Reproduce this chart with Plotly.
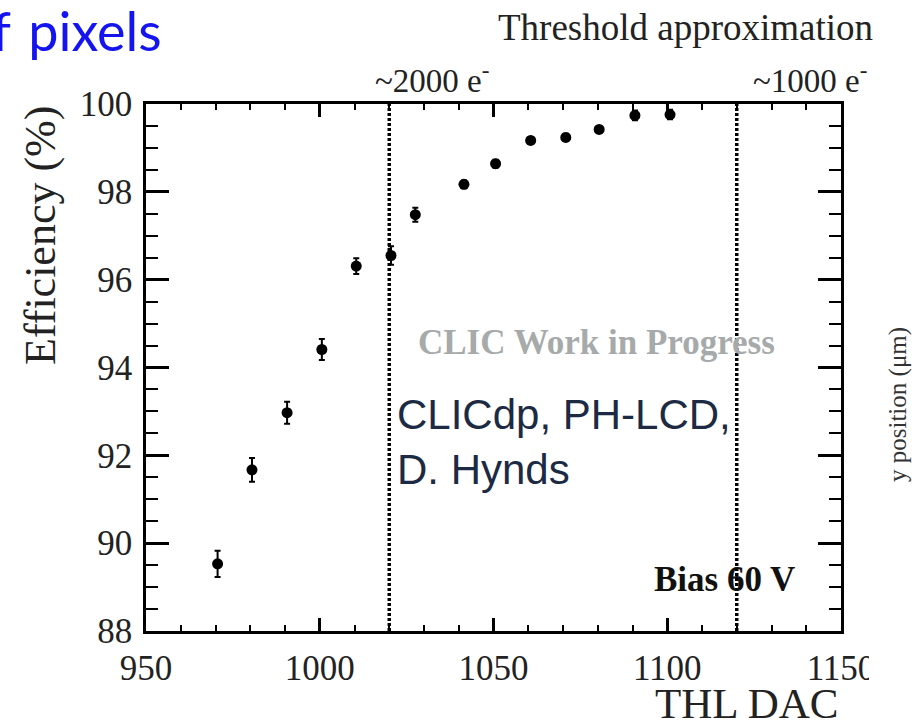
import plotly.graph_objects as go

# Data
thl_dac = [970.6, 980.5, 990.6, 1000.6, 1010.5, 1020.5, 1027.5, 1041.5,
           1050.6, 1060.7, 1070.8, 1080.4, 1090.7, 1100.8]
efficiency = [89.53, 91.67, 92.97, 94.41, 96.31, 96.55, 97.48, 98.17,
              98.64, 99.17, 99.24, 99.42, 99.74, 99.76]
eff_err = [0.30, 0.27, 0.25, 0.24, 0.18, 0.21, 0.16, 0.09,
           0.09, 0.08, 0.08, 0.08, 0.11, 0.11]
threshold_lines = [1020, 1120]
threshold_labels = ["~2000 e<sup>-</sup>", "~1000 e<sup>-</sup>"]
x_range = [950, 1150]
y_range = [88, 100]

W, H = 912, 722
L, R, T, B = 146, 71, 104, 91
pw, ph = W - L - R, H - T - B


def px(xp):
    return (xp - L) / pw


def py(yp):
    return (H - B - yp) / ph


SERIF = "Liberation Serif"

fig = go.Figure()

for xv in threshold_lines:
    fig.add_trace(go.Scatter(
        x=[xv, xv], y=y_range, mode="lines",
        line=dict(color="black", width=3.5, dash="3px,2px"),
        hoverinfo="skip", showlegend=False))

fig.add_trace(go.Scatter(
    x=thl_dac, y=efficiency, mode="markers",
    marker=dict(color="black", size=11),
    error_y=dict(type="data", array=eff_err, color="black",
                 thickness=2, width=3),
    showlegend=False))

axis_common = dict(
    showline=True, linecolor="black", linewidth=2.5, mirror="allticks",
    ticks="inside", tickcolor="black", tickwidth=2.5,
    showgrid=False, zeroline=False,
    tickfont=dict(family=SERIF, size=35, color="#222"),
)

fig.update_xaxes(range=x_range, dtick=50, ticklen=13,
                 minor=dict(dtick=10, ticklen=6, tickwidth=2,
                            ticks="inside", tickcolor="black"),
                 ticklabelstandoff=4,
                 **axis_common)
fig.update_yaxes(range=y_range, dtick=2, ticklen=23,
                 minor=dict(dtick=0.5, ticklen=12, tickwidth=2,
                            ticks="inside", tickcolor="black"),
                 ticklabelstandoff=4,
                 **axis_common)

ann = []
# axis titles
ann.append(dict(text="Efficiency (%)", x=px(40), y=py(236), xref="paper", yref="paper",
                textangle=-90, showarrow=False, xanchor="center", yanchor="middle",
                font=dict(family=SERIF, size=44, color="#222")))
ann.append(dict(text="THL DAC", x=px(841), y=py(703), xref="paper", yref="paper",
                showarrow=False, xanchor="right", yanchor="middle",
                font=dict(family=SERIF, size=43, color="#222")))
# threshold labels
ann.append(dict(text="Threshold approximation", x=px(685), y=py(27), xref="paper", yref="paper",
                showarrow=False, xanchor="center", yanchor="middle",
                font=dict(family=SERIF, size=37, color="#222")))
for xc, lab in zip([432, 810], threshold_labels):
    ann.append(dict(text=lab, x=px(xc), y=py(78), xref="paper", yref="paper",
                    showarrow=False, xanchor="center", yanchor="middle",
                    font=dict(family=SERIF, size=33, color="#222")))
# in-plot labels
ann.append(dict(text="<b>CLIC Work in Progress</b>", x=1079.5, y=94.57, xref="x", yref="y",
                showarrow=False, xanchor="center", yanchor="middle",
                font=dict(family=SERIF, size=35, color="#a6aaaa")))
ann.append(dict(text="CLICdp, PH-LCD,<br>D. Hynds", x=1021.6, y=92.3, xref="x", yref="y",
                showarrow=False, xanchor="left", yanchor="middle", align="left",
                font=dict(family="Liberation Sans", size=42, color="#1c2a44")))
ann.append(dict(text="<b>Bias 60 V</b>", x=1116.4, y=89.17, xref="x", yref="y",
                showarrow=False, xanchor="center", yanchor="middle",
                font=dict(family=SERIF, size=35, color="#111")))
# slide fragments
ann.append(dict(text="of\u200a pixels", x=px(164), y=py(30), xref="paper", yref="paper",
                showarrow=False, xanchor="right", yanchor="middle",
                font=dict(family="Lato", size=54, color="#1414f0")))
ann.append(dict(text="y position (\u03bcm)", x=px(898), y=py(405), xref="paper", yref="paper",
                textangle=-90, showarrow=False, xanchor="center", yanchor="middle",
                font=dict(family=SERIF, size=25, color="#333")))

fig.update_layout(
    width=W, height=H,
    margin=dict(l=L, r=R, t=T, b=B, pad=0),
    paper_bgcolor="white", plot_bgcolor="white",
    annotations=ann,
    shapes=[dict(type="rect", xref="paper", yref="paper",
                 x0=px(869), x1=px(915), y0=py(634), y1=py(690),
                 fillcolor="white", line=dict(width=0), layer="above")],
)

fig.write_html("out.html")
